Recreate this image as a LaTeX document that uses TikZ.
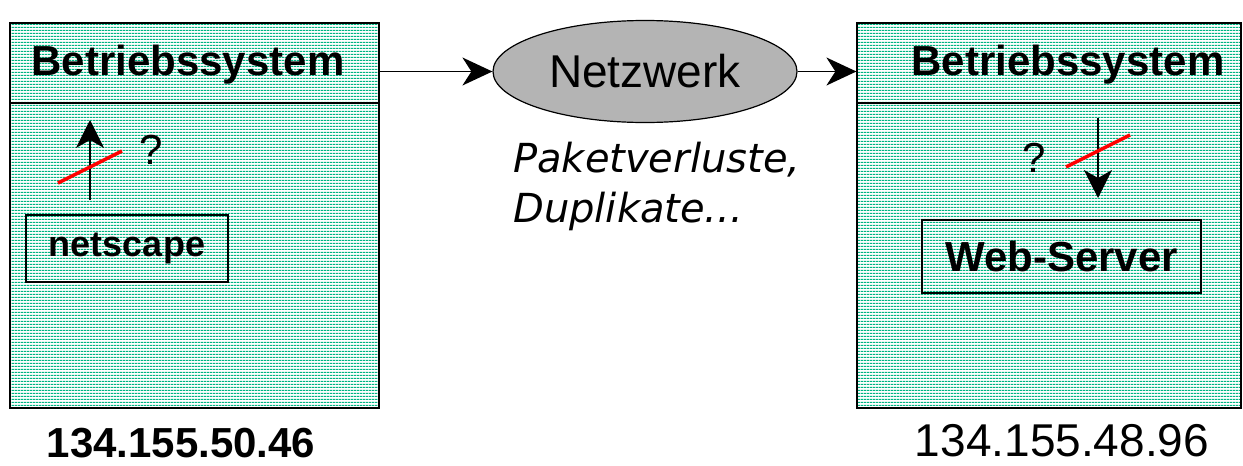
\documentclass[tikz,border=0pt]{standalone}
\usepackage{fontspec}
\setmainfont{Liberation Sans}
\newfontfamily\handfont{DejaVu Sans}
\usetikzlibrary{arrows.meta,shapes.geometric,patterns.meta}
\definecolor{stripe}{RGB}{0,180,130}
\definecolor{netgray}{RGB}{180,180,180}
\definecolor{slashred}{RGB}{255,0,0}
\tikzdeclarepattern{
  name=hstripes,
  type=uncolored,
  bottom left={(0pt,0pt)},
  top right={(3pt,3pt)},
  tile size={(3pt,3pt)},
  code={\fill (-0.1pt,0pt) rectangle (3.1pt,1.6pt);}
}
\tikzset{
  fs/.style={font=\fontsize{#1}{#1}\selectfont},
  fsb/.style={font=\fontsize{#1}{#1}\selectfont\bfseries},
  hostbox/.style={draw=black, line width=1.2pt, pattern={hstripes}, pattern color=stripe,
    inner sep=0pt, rectangle},
  appbox/.style={draw=black, line width=1.2pt, inner sep=0pt, rectangle},
  netnode/.style={ellipse, draw=black, line width=1.2pt, fill=netgray, inner sep=0pt,
    minimum width=304pt, minimum height=102pt, fs=46},
  flow/.style={line width=1.3pt, -{Stealth[length=30pt,width=28pt,inset=9pt]}},
  updown/.style={line width=1.3pt, -{Stealth[length=28pt,width=28pt,inset=8pt]}},
  slash/.style={draw=slashred, line width=3.5pt},
  txt/.style={inner sep=0pt, anchor=base},
  hand/.style={inner sep=0pt, anchor=base west, font=\fontsize{40}{40}\selectfont\handfont\itshape},
}
\begin{document}
\begin{tikzpicture}[x=1pt,y=-1pt]
\useasboundingbox[fill=white] (0,0) rectangle (1243,466);

% hosts
\node[hostbox, minimum width=369pt, minimum height=385pt] (L) at (194.5,215.5) {};
\node[hostbox, minimum width=384pt, minimum height=385pt] (R) at (1049,215.5) {};
\draw[line width=1.2pt] (L.west |- 0,103) -- (L.east |- 0,103);
\draw[line width=1.2pt] (R.west |- 0,103) -- (R.east |- 0,103);

\node[txt, fsb=42] (Lh) at (188,75) {Betriebssystem};
\node[txt, fsb=42] (Rh) at (1068,75) {Betriebssystem};

% network
\node[netnode] (N) at (645,71.5) {Netzwerk};
\draw[flow] (L.east |- N.west) -- (N.west);
\draw[flow] (N.east) -- (R.west |- N.east);

\node[hand] (h1) at (513,172) {Paketverluste,};
\node[hand] (h2) at (513,222) {Duplikate...};

% left application
\node[appbox, minimum width=202pt, minimum height=67pt, fsb=36] (NS) at (127,248.5) {netscape};
\coordinate (la1) at (90,200);
\coordinate (la2) at (90,120);
\draw[updown] (la1) -- (la2);
\coordinate (lr1) at (58,183);
\coordinate (lr2) at (122,151);
\draw[slash] (lr1) -- (lr2);
\node[fs=42, inner sep=0pt] (lq) at (151,150) {?};

% right application
\node[appbox, minimum width=279pt, minimum height=73pt, fsb=42] (WS) at (1061.5,256.5) {Web-Server};
\coordinate (ra1) at (1098,118);
\coordinate (ra2) at (1098,198);
\draw[updown] (ra1) -- (ra2);
\coordinate (rr1) at (1066,167);
\coordinate (rr2) at (1130,135);
\draw[slash] (rr1) -- (rr2);
\node[fs=42, inner sep=0pt] (rq) at (1034,158) {?};

% addresses
\node[txt, fsb=42] (ipl) at (181,457) {134.155.50.46};
\node[txt, fs=46] (ipr) at (1062,456) {134.155.48.96};
\end{tikzpicture}
\end{document}
